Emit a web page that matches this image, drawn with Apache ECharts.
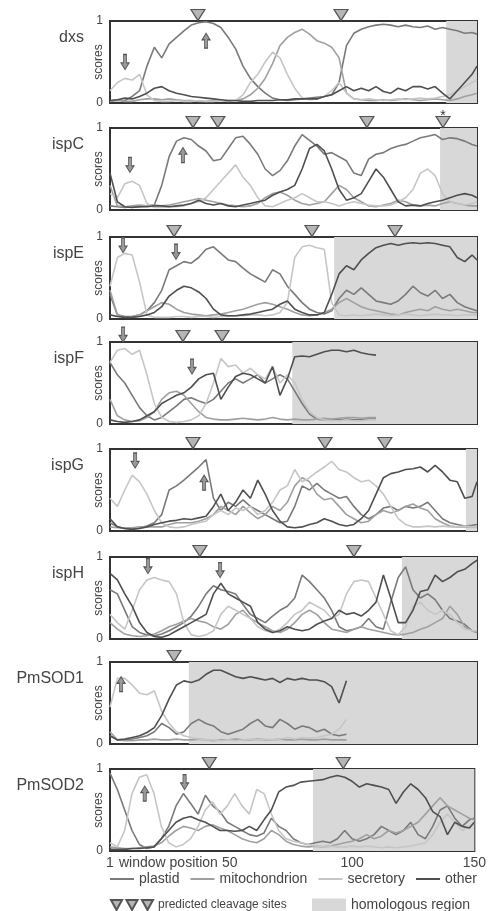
<!DOCTYPE html>
<html lang="en">
<head>
<meta charset="UTF-8">
<title>Targeting scores along window position</title>
<script src="https://cdn.jsdelivr.net/npm/echarts@6/dist/echarts.min.js"></script>
<style>
  html, body { margin: 0; padding: 0; background: #fff; }
  #chart { width: 489px; height: 911px; }
</style>
</head>
<body>
<div id="chart"></div>
<script>
// sampled window positions (x)
const positions = [1,4,7,10,13,16,19,22,25,28,31,34,37,40,43,46,49,52,55,58,61,64,67,70,73,76,79,82,85,88,91,94,97,100,103,106,109,112,115,118,121,124,127,130,133,136,139,142,145,148,150];
const genes = ['dxs', 'ispC', 'ispE', 'ispF', 'ispG', 'ispH', 'PmSOD1', 'PmSOD2'];
const xTicks = [1, 50, 100, 150];

// scores
const dxsPlastid = [0.02,0.04,0.03,0.08,0.15,0.45,0.68,0.55,0.72,0.8,0.88,0.95,0.98,0.99,0.97,0.92,0.8,0.66,0.45,0.3,0.2,0.12,0.06,0.04,0.03,0.04,0.05,0.06,0.07,0.08,0.1,0.25,0.7,0.85,0.9,0.93,0.95,0.96,0.95,0.93,0.95,0.93,0.92,0.94,0.9,0.92,0.9,0.88,0.85,0.86,0.84];
const dxsMito = [0.02,0.03,0.02,0.02,0.04,0.05,0.05,0.04,0.05,0.04,0.03,0.03,0.02,0.02,0.03,0.03,0.02,0.03,0.05,0.1,0.18,0.3,0.48,0.7,0.8,0.86,0.9,0.84,0.76,0.73,0.68,0.55,0.12,0.05,0.04,0.03,0.03,0.04,0.03,0.04,0.05,0.04,0.03,0.04,0.05,0.04,0.03,0.05,0.08,0.1,0.12];
const dxsSecretory = [0.15,0.25,0.3,0.28,0.35,0.1,0.03,0.02,0.02,0.03,0.02,0.02,0.03,0.02,0.02,0.03,0.03,0.03,0.1,0.25,0.35,0.5,0.62,0.55,0.35,0.18,0.06,0.04,0.05,0.08,0.15,0.25,0.12,0.05,0.04,0.05,0.04,0.03,0.04,0.05,0.04,0.05,0.06,0.05,0.06,0.08,0.1,0.15,0.2,0.25,0.28];
const dxsOther = [0.03,0.04,0.06,0.05,0.08,0.12,0.18,0.2,0.15,0.12,0.1,0.08,0.07,0.06,0.05,0.04,0.03,0.03,0.02,0.02,0.03,0.03,0.03,0.04,0.04,0.05,0.05,0.05,0.05,0.08,0.1,0.15,0.2,0.15,0.18,0.15,0.2,0.14,0.12,0.18,0.15,0.2,0.2,0.17,0.2,0.12,0.05,0.15,0.25,0.35,0.45];

const ispCPlastid = [0.05,0.04,0.03,0.04,0.04,0.05,0.06,0.3,0.65,0.84,0.88,0.86,0.78,0.72,0.6,0.62,0.75,0.88,0.9,0.8,0.68,0.5,0.42,0.48,0.6,0.78,0.92,0.85,0.78,0.68,0.7,0.65,0.6,0.45,0.42,0.62,0.68,0.7,0.75,0.78,0.8,0.84,0.88,0.9,0.92,0.86,0.88,0.87,0.84,0.8,0.78];
const ispCMito = [0.3,0.05,0.04,0.05,0.06,0.05,0.06,0.05,0.06,0.08,0.1,0.12,0.14,0.12,0.1,0.08,0.06,0.05,0.04,0.05,0.08,0.15,0.2,0.22,0.18,0.12,0.08,0.06,0.08,0.1,0.2,0.3,0.25,0.15,0.1,0.05,0.04,0.06,0.08,0.12,0.1,0.06,0.05,0.06,0.05,0.08,0.1,0.08,0.06,0.05,0.05];
const ispCSecretory = [0.2,0.15,0.32,0.35,0.3,0.08,0.03,0.03,0.04,0.04,0.05,0.08,0.1,0.15,0.25,0.35,0.45,0.55,0.4,0.3,0.15,0.05,0.04,0.08,0.12,0.15,0.2,0.15,0.1,0.1,0.08,0.05,0.08,0.1,0.08,0.06,0.05,0.05,0.06,0.1,0.15,0.25,0.45,0.5,0.42,0.2,0.1,0.08,0.06,0.08,0.1];
const ispCOther = [0.45,0.1,0.04,0.03,0.04,0.04,0.05,0.05,0.04,0.05,0.06,0.08,0.12,0.08,0.06,0.08,0.05,0.04,0.06,0.08,0.1,0.12,0.18,0.22,0.25,0.3,0.5,0.75,0.8,0.72,0.5,0.25,0.12,0.15,0.2,0.35,0.5,0.4,0.25,0.1,0.05,0.06,0.05,0.08,0.1,0.12,0.15,0.18,0.2,0.18,0.15];

const ispEPlastid = [0.3,0.05,0.03,0.03,0.05,0.1,0.2,0.35,0.6,0.65,0.7,0.68,0.75,0.85,0.88,0.8,0.72,0.7,0.62,0.55,0.5,0.45,0.6,0.55,0.4,0.3,0.2,0.12,0.08,0.06,0.1,0.25,0.35,0.3,0.38,0.3,0.22,0.2,0.18,0.22,0.3,0.4,0.32,0.28,0.35,0.25,0.3,0.2,0.15,0.12,0.1];
const ispEMito = [0.35,0.05,0.02,0.03,0.05,0.1,0.15,0.2,0.18,0.12,0.08,0.06,0.05,0.04,0.05,0.06,0.08,0.1,0.12,0.15,0.18,0.2,0.18,0.15,0.12,0.08,0.05,0.04,0.05,0.08,0.12,0.2,0.25,0.2,0.15,0.12,0.1,0.08,0.06,0.05,0.08,0.1,0.12,0.1,0.15,0.12,0.1,0.12,0.1,0.08,0.08];
const ispESecretory = [0.4,0.75,0.8,0.78,0.45,0.05,0.02,0.02,0.02,0.03,0.03,0.02,0.03,0.03,0.02,0.03,0.03,0.04,0.04,0.05,0.05,0.04,0.05,0.08,0.2,0.75,0.88,0.9,0.87,0.85,0.2,0.05,0.04,0.05,0.04,0.05,0.06,0.05,0.04,0.05,0.06,0.05,0.04,0.05,0.06,0.05,0.05,0.04,0.05,0.05,0.05];
const ispEOther = [0.05,0.03,0.02,0.02,0.03,0.05,0.08,0.15,0.28,0.35,0.4,0.38,0.33,0.25,0.12,0.05,0.04,0.04,0.05,0.06,0.08,0.1,0.12,0.18,0.22,0.12,0.08,0.05,0.05,0.08,0.3,0.55,0.65,0.6,0.72,0.8,0.87,0.9,0.92,0.9,0.92,0.93,0.92,0.93,0.92,0.9,0.88,0.75,0.7,0.78,0.72];

// ispF and PmSOD1 traces stop before the end of the window range
const ispFPlastid = [0.75,0.6,0.5,0.35,0.2,0.1,0.05,0.08,0.15,0.22,0.3,0.32,0.28,0.25,0.3,0.4,0.5,0.55,0.5,0.55,0.6,0.5,0.55,0.6,0.55,0.4,0.25,0.12,0.06,0.05,0.05,0.05,0.06,0.05,0.05,0.06,0.06];
const ispFMito = [0.3,0.1,0.05,0.03,0.04,0.08,0.15,0.3,0.38,0.4,0.35,0.25,0.15,0.08,0.06,0.05,0.05,0.06,0.07,0.06,0.05,0.06,0.08,0.06,0.05,0.06,0.05,0.05,0.06,0.07,0.06,0.07,0.08,0.08,0.07,0.08,0.08];
const ispFSecretory = [0.75,0.9,0.92,0.85,0.9,0.6,0.25,0.08,0.03,0.02,0.03,0.05,0.1,0.25,0.5,0.8,0.7,0.72,0.62,0.68,0.6,0.55,0.7,0.5,0.6,0.5,0.3,0.15,0.08,0.05,0.04,0.04,0.05,0.04,0.04,0.05,0.05];
const ispFOther = [0.05,0.03,0.02,0.03,0.05,0.1,0.15,0.25,0.3,0.35,0.38,0.45,0.55,0.6,0.62,0.3,0.45,0.58,0.62,0.6,0.55,0.5,0.7,0.35,0.55,0.82,0.83,0.82,0.85,0.88,0.9,0.9,0.88,0.9,0.87,0.85,0.84];

const ispGPlastid = [0.1,0.05,0.03,0.03,0.04,0.06,0.1,0.2,0.5,0.55,0.62,0.7,0.78,0.87,0.4,0.25,0.35,0.3,0.38,0.3,0.25,0.2,0.15,0.1,0.12,0.3,0.55,0.5,0.58,0.5,0.45,0.4,0.42,0.3,0.2,0.15,0.2,0.28,0.3,0.25,0.3,0.28,0.3,0.35,0.25,0.15,0.1,0.08,0.06,0.07,0.08];
const ispGMito = [0.05,0.04,0.04,0.04,0.05,0.05,0.05,0.05,0.08,0.1,0.1,0.1,0.12,0.15,0.2,0.3,0.25,0.2,0.3,0.22,0.15,0.2,0.3,0.25,0.35,0.55,0.65,0.6,0.45,0.38,0.4,0.3,0.2,0.15,0.1,0.12,0.2,0.25,0.22,0.25,0.3,0.33,0.28,0.25,0.15,0.1,0.06,0.05,0.05,0.05,0.05];
const ispGSecretory = [0.4,0.3,0.5,0.68,0.6,0.45,0.25,0.1,0.05,0.04,0.05,0.08,0.1,0.12,0.2,0.25,0.2,0.28,0.25,0.3,0.2,0.25,0.35,0.5,0.55,0.75,0.6,0.65,0.72,0.78,0.85,0.75,0.72,0.65,0.6,0.62,0.55,0.45,0.3,0.15,0.08,0.05,0.05,0.06,0.05,0.06,0.05,0.05,0.06,0.05,0.05];
const ispGOther = [0.15,0.05,0.03,0.02,0.03,0.05,0.08,0.1,0.12,0.13,0.15,0.14,0.16,0.18,0.3,0.45,0.25,0.35,0.5,0.4,0.62,0.45,0.25,0.12,0.05,0.04,0.05,0.08,0.1,0.15,0.12,0.08,0.06,0.08,0.15,0.25,0.45,0.65,0.7,0.72,0.75,0.76,0.78,0.72,0.8,0.72,0.62,0.6,0.4,0.42,0.6];

const ispHPlastid = [0.6,0.55,0.35,0.15,0.08,0.05,0.04,0.06,0.1,0.15,0.2,0.28,0.4,0.55,0.65,0.6,0.58,0.55,0.42,0.3,0.25,0.2,0.28,0.35,0.4,0.5,0.78,0.7,0.6,0.5,0.35,0.15,0.1,0.12,0.15,0.25,0.15,0.12,0.45,0.75,0.88,0.6,0.5,0.55,0.48,0.35,0.25,0.22,0.18,0.1,0.08];
const ispHMito = [0.2,0.12,0.06,0.04,0.03,0.04,0.06,0.1,0.15,0.18,0.22,0.25,0.22,0.2,0.15,0.12,0.18,0.3,0.35,0.25,0.2,0.15,0.1,0.08,0.12,0.2,0.3,0.35,0.3,0.2,0.12,0.1,0.08,0.12,0.15,0.12,0.1,0.08,0.06,0.05,0.06,0.08,0.12,0.15,0.2,0.25,0.4,0.3,0.15,0.1,0.08];
const ispHSecretory = [0.3,0.2,0.12,0.35,0.6,0.72,0.75,0.72,0.7,0.55,0.2,0.05,0.03,0.05,0.1,0.3,0.4,0.35,0.3,0.25,0.15,0.1,0.08,0.12,0.2,0.3,0.35,0.45,0.4,0.35,0.25,0.3,0.55,0.7,0.72,0.7,0.5,0.3,0.1,0.05,0.15,0.4,0.45,0.35,0.3,0.35,0.3,0.2,0.12,0.1,0.1];
const ispHOther = [0.8,0.72,0.55,0.4,0.2,0.08,0.03,0.02,0.05,0.1,0.15,0.2,0.25,0.3,0.55,0.68,0.55,0.5,0.45,0.4,0.2,0.12,0.08,0.1,0.15,0.12,0.1,0.12,0.18,0.22,0.25,0.35,0.3,0.32,0.28,0.35,0.45,0.78,0.5,0.2,0.2,0.35,0.58,0.6,0.78,0.7,0.75,0.82,0.85,0.92,0.96];

const pmsod1Plastid = [0.1,0.05,0.05,0.06,0.08,0.1,0.15,0.25,0.2,0.12,0.15,0.25,0.3,0.25,0.22,0.15,0.12,0.15,0.18,0.25,0.3,0.22,0.2,0.3,0.25,0.18,0.22,0.2,0.15,0.18,0.12,0.1,0.12];
const pmsod1Mito = [0.15,0.05,0.04,0.04,0.05,0.05,0.06,0.05,0.05,0.06,0.05,0.05,0.06,0.05,0.04,0.05,0.05,0.06,0.05,0.05,0.06,0.05,0.05,0.06,0.05,0.05,0.06,0.05,0.05,0.06,0.05,0.05,0.05];
const pmsod1Secretory = [0.45,0.8,0.8,0.72,0.62,0.6,0.65,0.4,0.25,0.15,0.1,0.08,0.06,0.05,0.05,0.04,0.05,0.04,0.05,0.06,0.05,0.06,0.05,0.06,0.08,0.06,0.08,0.07,0.08,0.1,0.12,0.18,0.3];
const pmsod1Other = [0.1,0.05,0.06,0.08,0.1,0.14,0.2,0.35,0.55,0.72,0.77,0.75,0.78,0.85,0.9,0.9,0.86,0.82,0.8,0.82,0.8,0.78,0.8,0.75,0.8,0.78,0.8,0.78,0.78,0.76,0.7,0.5,0.77];

const pmsod2Plastid = [0.95,0.75,0.5,0.25,0.08,0.03,0.05,0.15,0.3,0.55,0.7,0.58,0.45,0.68,0.55,0.48,0.35,0.3,0.25,0.2,0.18,0.22,0.4,0.3,0.25,0.15,0.1,0.08,0.1,0.12,0.1,0.15,0.25,0.15,0.12,0.15,0.2,0.3,0.25,0.2,0.25,0.35,0.2,0.15,0.3,0.5,0.55,0.4,0.3,0.38,0.4];
const pmsod2Mito = [0.05,0.04,0.03,0.03,0.04,0.05,0.06,0.1,0.18,0.25,0.3,0.28,0.25,0.3,0.32,0.28,0.25,0.2,0.15,0.12,0.1,0.15,0.25,0.2,0.12,0.08,0.06,0.05,0.06,0.05,0.06,0.08,0.1,0.12,0.15,0.2,0.15,0.18,0.25,0.22,0.25,0.3,0.35,0.45,0.55,0.65,0.55,0.5,0.45,0.4,0.38];
const pmsod2Secretory = [0.1,0.05,0.25,0.7,0.9,0.93,0.7,0.3,0.1,0.05,0.08,0.15,0.3,0.5,0.6,0.45,0.55,0.7,0.55,0.45,0.75,0.7,0.45,0.25,0.15,0.12,0.1,0.08,0.06,0.05,0.06,0.05,0.05,0.06,0.05,0.06,0.05,0.04,0.05,0.04,0.05,0.06,0.08,0.1,0.2,0.35,0.45,0.35,0.25,0.3,0.35];
const pmsod2Other = [0.02,0.02,0.02,0.03,0.03,0.04,0.05,0.15,0.25,0.35,0.4,0.42,0.38,0.35,0.3,0.25,0.25,0.24,0.25,0.3,0.25,0.38,0.5,0.72,0.78,0.8,0.84,0.85,0.86,0.87,0.9,0.92,0.9,0.85,0.78,0.82,0.8,0.78,0.75,0.58,0.72,0.82,0.75,0.65,0.48,0.42,0.2,0.35,0.3,0.28,0.35];

// predicted cleavage sites (window position)
const dxsSites = [36.7, 94.8];
const ispCSites = [34.7, 44.8, 105.3, 136.2];
const ispESites = [27, 83, 116.7];
const ispFSites = [30.6, 46.5];
const ispGSites = [34.7, 88.3, 112.6];
const ispHSites = [37.5, 100];
const pmsod1Sites = [27];
const pmsod2Sites = [41.6, 96.4];
// start of homologous region
const homologyStart = [137.5, 135, 92, 75, 145.5, 119.5, 33, 84];
// arrows: [position, score, direction]
const dxsArrows = [[7.1, 0.5, 'down'], [40, 0.76, 'up']];
const ispCArrows = [[9.1, 0.55, 'down'], [30.6, 0.67, 'up']];
const ispEArrows = [[6.3, 0.9, 'down'], [27.8, 0.82, 'down']];
const ispFArrows = [[6.3, 1.09, 'down'], [34.3, 0.7, 'down']];
const ispGArrows = [[11.2, 0.86, 'down'], [39.2, 0.59, 'up']];
const ispHArrows = [[16.4, 0.89, 'down'], [45.7, 0.84, 'down']];
const pmsod1Arrows = [[5.5, 0.73, 'up']];
const pmsod2Arrows = [[15.2, 0.7, 'up'], [31.5, 0.84, 'down']];

const scoreTable = [
  [dxsPlastid, dxsMito, dxsSecretory, dxsOther],
  [ispCPlastid, ispCMito, ispCSecretory, ispCOther],
  [ispEPlastid, ispEMito, ispESecretory, ispEOther],
  [ispFPlastid, ispFMito, ispFSecretory, ispFOther],
  [ispGPlastid, ispGMito, ispGSecretory, ispGOther],
  [ispHPlastid, ispHMito, ispHSecretory, ispHOther],
  [pmsod1Plastid, pmsod1Mito, pmsod1Secretory, pmsod1Other],
  [pmsod2Plastid, pmsod2Mito, pmsod2Secretory, pmsod2Other]
];
const siteTable = [dxsSites, ispCSites, ispESites, ispFSites, ispGSites, ispHSites, pmsod1Sites, pmsod2Sites];
const arrowTable = [dxsArrows, ispCArrows, ispEArrows, ispFArrows, ispGArrows, ispHArrows, pmsod1Arrows, pmsod2Arrows];

// layout
const panelTops = [21, 128, 237, 342, 449, 557, 662, 769];
const panelHeight = 82;
const seriesNames = ['plastid', 'mitochondrion', 'secretory', 'other'];
const lineColors = ['#7a7a7a', '#a0a0a0', '#c6c6c6', '#4f4f4f'];
const drawOrder = [2, 1, 0, 3];
const fontFamily = '"Liberation Sans", Arial, sans-serif';
const textColor = '#444';

const downArrow = 'path://M3,0L7,0L7,9L10,9L5,16L0,9L3,9Z';
const upArrow = 'path://M5,0L10,7L7,7L7,16L3,16L3,7L0,7Z';
const triangle = 'path://M0,0L10,0L5,9Z';
const threeTriangles = 'path://M0,0L10,0L5,9Z M14,0L24,0L19,9Z M28,0L38,0L33,9Z';

var chartDom = document.getElementById('chart');
var myChart = echarts.init(chartDom);

const grids = [], xAxes = [], yAxes = [], series = [], graphics = [];

genes.forEach(function (gene, i) {
  const last = i === genes.length - 1;
  grids.push({
    left: 110, width: 367, top: panelTops[i], height: panelHeight,
    show: true, borderColor: '#333', borderWidth: 2, backgroundColor: 'transparent'
  });
  xAxes.push({
    gridIndex: i, type: 'value', min: 1, max: 150,
    axisLine: { show: false }, axisTick: { show: false }, splitLine: { show: false },
    axisLabel: {
      show: last, customValues: xTicks, margin: 5,
      fontSize: 14, color: textColor, fontFamily: fontFamily
    }
  });
  yAxes.push({
    gridIndex: i, type: 'value', min: 0, max: 1, interval: 1,
    axisLine: { show: false }, axisTick: { show: false }, splitLine: { show: false },
    axisLabel: { fontSize: 12, color: textColor, margin: 7, fontFamily: fontFamily },
    name: 'scores', nameLocation: 'middle', nameGap: 5, nameRotate: 90, nameMoveOverlap: false,
    nameTextStyle: { fontSize: 12, color: textColor, fontFamily: fontFamily }
  });

  // homologous region shading
  series.push({
    name: 'homologous region', type: 'line', xAxisIndex: i, yAxisIndex: i,
    data: [], itemStyle: { color: '#d8d8d8' }, lineStyle: { color: '#d8d8d8' },
    markArea: {
      silent: true, itemStyle: { color: '#d8d8d8' },
      data: [[{ xAxis: homologyStart[i] }, { xAxis: 150 }]]
    },
    z: 1
  });

  drawOrder.forEach(function (k) {
    const vals = scoreTable[i][k];
    series.push({
      name: seriesNames[k], type: 'line', xAxisIndex: i, yAxisIndex: i,
      data: vals.map(function (v, j) { return [positions[j], v]; }),
      showSymbol: false, symbol: 'none',
      lineStyle: { color: lineColors[k], width: 1.6 },
      itemStyle: { color: lineColors[k] },
      z: 3 + k
    });
  });

  series.push({
    name: 'predicted cleavage sites', type: 'scatter', xAxisIndex: i, yAxisIndex: i,
    symbol: triangle, symbolSize: [14, 11], symbolOffset: [0, -6], clip: false,
    itemStyle: { color: '#b5b5b5', borderColor: '#555', borderWidth: 1.2, opacity: 1 },
    data: siteTable[i].map(function (p) {
      const item = { value: [p, 1] };
      if (gene === 'ispC' && p > 130) {
        item.label = { show: true, formatter: '*', position: 'top', distance: 0, offset: [0, 7], fontSize: 14, color: '#333' };
      }
      return item;
    }),
    z: 10
  });

  series.push({
    name: 'arrows', type: 'scatter', xAxisIndex: i, yAxisIndex: i, clip: false,
    symbolSize: [8, 15],
    itemStyle: { color: '#9a9a9a', borderColor: '#555', borderWidth: 1, opacity: 1 },
    data: arrowTable[i].map(function (a) {
      return { value: [a[0], a[1]], symbol: a[2] === 'up' ? upArrow : downArrow };
    }),
    z: 11
  });

  graphics.push({
    type: 'text', x: 84, y: panelTops[i] + 17,
    style: { text: gene, align: 'right', verticalAlign: 'middle', fill: textColor, font: '16px ' + fontFamily }
  });
});

graphics.push({
  type: 'text', x: 119, y: panelTops[7] + panelHeight + 12,
  style: { text: 'window position', align: 'left', verticalAlign: 'middle', fill: textColor, font: '14px ' + fontFamily }
});

option = {
  backgroundColor: '#fff',
  animation: false,
  grid: grids,
  xAxis: xAxes,
  yAxis: yAxes,
  legend: [
    {
      data: seriesNames.map(function (n) { return { name: n, icon: 'rect' }; }),
      left: 110, top: 872, padding: 0, itemWidth: 24, itemHeight: 2, itemGap: 11,
      textStyle: { fontSize: 14, color: textColor, fontFamily: fontFamily }
    },
    {
      data: [{ name: 'predicted cleavage sites', icon: threeTriangles }],
      left: 110, top: 899, padding: 0, itemWidth: 42, itemHeight: 10,
      textStyle: { fontSize: 12, color: textColor, fontFamily: fontFamily }
    },
    {
      data: [{ name: 'homologous region', icon: 'rect' }],
      left: 312, top: 898, padding: 0, itemWidth: 34, itemHeight: 13,
      textStyle: { fontSize: 14, color: textColor, fontFamily: fontFamily }
    }
  ],
  graphic: graphics,
  series: series
};

option && myChart.setOption(option);
</script>
</body>
</html>
